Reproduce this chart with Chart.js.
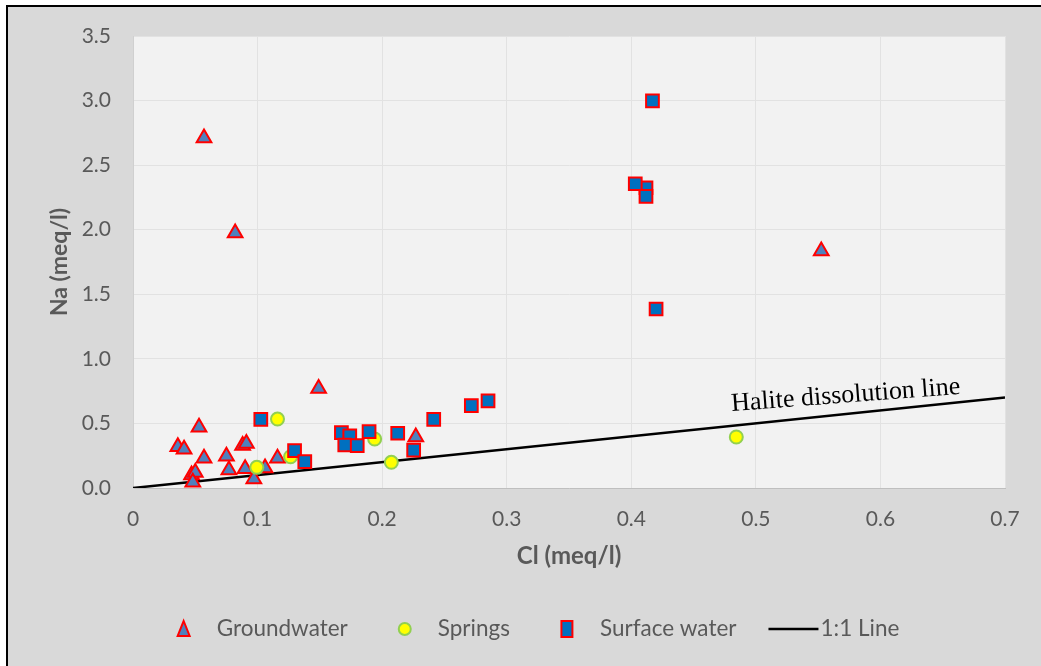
<!DOCTYPE html>
<html lang="en">

<head>
    <meta charset="UTF-8">
    <title>Na vs Cl</title>
    <script src="https://cdn.jsdelivr.net/npm/chart.js"></script>
    <style>
        html, body { margin: 0; padding: 0; background: #ffffff; }
        canvas { display: block; }
    </style>
</head>

<body>
    <canvas id="graficoNaCl" width="1041" height="666"></canvas>

<script>
    // Cl and Na in meq/l for each sample group
    const groundwaterCl = [0.149, 0.053, 0.036, 0.041, 0.057, 0.075, 0.088, 0.091, 0.077, 0.090, 0.106, 0.116, 0.047, 0.050, 0.048, 0.097, 0.057, 0.082, 0.5525, 0.227];
    const groundwaterNa = [0.77, 0.47, 0.32, 0.30, 0.23, 0.245, 0.33, 0.345, 0.14, 0.15, 0.155, 0.23, 0.10, 0.12, 0.045, 0.07, 2.71, 1.975, 1.835, 0.395];

    const springsCl = [0.116, 0.0994, 0.1265, 0.194, 0.2074, 0.4843];
    const springsNa = [0.534, 0.160, 0.242, 0.379, 0.199, 0.395];

    const surfaceCl = [0.1026, 0.1297, 0.1379, 0.1673, 0.174, 0.170, 0.180, 0.1895, 0.2125, 0.2253, 0.2414, 0.2716, 0.285, 0.4118, 0.4032, 0.4118, 0.4199, 0.417];
    const surfaceNa = [0.532, 0.289, 0.204, 0.428, 0.403, 0.333, 0.328, 0.436, 0.424, 0.294, 0.532, 0.637, 0.674, 2.325, 2.356, 2.259, 1.386, 2.997];

    // 1:1 reference line
    const lineCl = [0, 0.7];
    const lineNa = [0, 0.7];

    const xTickValues = [0, 0.1, 0.2, 0.3, 0.4, 0.5, 0.6, 0.7];
    const xTickLabels = ['0', '0.1', '0.2', '0.3', '0.4', '0.5', '0.6', '0.7'];
    const yTickValues = [0, 0.5, 1, 1.5, 2, 2.5, 3, 3.5];
    const yTickLabels = ['0.0', '0.5', '1.0', '1.5', '2.0', '2.5', '3.0', '3.5'];

    const seriesNames = ['Groundwater', 'Springs', 'Surface water', '1:1 Line'];
    const lineLabel = { text: 'Halite dissolution line', x: 0.5725, y: 0.662 };

    function pontos(xs, ys) {
        return xs.map(function (x, i) { return { x: x, y: ys[i] } });
    }

    const cinza = '#595959';
    Chart.defaults.font.family = 'Lato, "Open Sans", sans-serif';

    // frame, grey background and plot area fill
    const fundo = {
        id: 'fundo',
        beforeDraw(chart) {
            const ctx = chart.ctx;
            const a = chart.chartArea;
            ctx.save();
            ctx.fillStyle = '#ffffff';
            ctx.fillRect(0, 0, chart.width, chart.height);
            ctx.fillStyle = '#d9d9d9';
            ctx.fillRect(7, 7, chart.width, chart.height);
            ctx.fillStyle = '#000000';
            ctx.fillRect(6, 5, chart.width, 2);
            ctx.fillRect(6, 5, 2, chart.height);
            ctx.fillStyle = '#f2f2f2';
            ctx.fillRect(a.left, a.top, a.right - a.left, a.bottom - a.top);
            ctx.restore();
        }
    };

    // rotated label sitting on the 1:1 line
    const rotulo = {
        id: 'rotulo',
        afterDatasetsDraw(chart) {
            const ctx = chart.ctx;
            const px = chart.scales.x.getPixelForValue(lineLabel.x);
            const py = chart.scales.y.getPixelForValue(lineLabel.y);
            ctx.save();
            ctx.translate(px, py);
            ctx.rotate(-4.3 * Math.PI / 180);
            ctx.font = '26px "Liberation Serif", "Times New Roman", serif';
            ctx.fillStyle = '#000000';
            ctx.textAlign = 'center';
            ctx.textBaseline = 'alphabetic';
            ctx.fillText(lineLabel.text, 0, 0);
            ctx.restore();
        }
    };

    // legend symbols are a little taller than the plotted markers
    function desenhaSimbolo(ctx, estilo, x, y) {
        if (estilo === 'triangle') {
            ctx.moveTo(x, y - 8);
            ctx.lineTo(x + 6, y + 7);
            ctx.lineTo(x - 6, y + 7);
            ctx.closePath();
        } else if (estilo === 'circle') {
            ctx.arc(x, y, 6, 0, Math.PI * 2);
        } else {
            ctx.rect(x - 5.5, y - 8, 11, 16);
        }
    }

    // legend row at the bottom, Excel style
    const legenda = {
        id: 'legenda',
        afterDraw(chart) {
            const ctx = chart.ctx;
            const y = 629;
            const simbolo = 50, folga = 8, espaco = 32;
            ctx.save();
            ctx.font = '22.5px Lato, "Open Sans", sans-serif';
            const larguras = seriesNames.map(function (n) { return ctx.measureText(n).width });
            let total = 0;
            larguras.forEach(function (w, i) { total += simbolo + folga + w + (i > 0 ? espaco : 0) });
            let x = 532 - total / 2;
            chart.data.datasets.forEach(function (ds, i) {
                const c = x + simbolo / 2;
                if (ds.type === 'line') {
                    ctx.strokeStyle = ds.borderColor;
                    ctx.lineWidth = ds.borderWidth;
                    ctx.beginPath();
                    ctx.moveTo(x, y);
                    ctx.lineTo(x + simbolo, y);
                    ctx.stroke();
                } else {
                    ctx.fillStyle = ds.pointBackgroundColor;
                    ctx.strokeStyle = ds.pointBorderColor;
                    ctx.lineWidth = ds.pointBorderWidth;
                    ctx.beginPath();
                    desenhaSimbolo(ctx, ds.pointStyle, c, y);
                    ctx.fill();
                    ctx.stroke();
                }
                ctx.fillStyle = cinza;
                ctx.textAlign = 'left';
                ctx.textBaseline = 'middle';
                ctx.fillText(seriesNames[i], x + simbolo + (ds.type === 'line' ? 2 : folga), y);
                x += simbolo + folga + larguras[i] + espaco;
            });
            ctx.restore();
        }
    };

    const grafico = document.getElementById('graficoNaCl');

    new Chart(grafico, {
        type: 'scatter',
        data: {
            datasets: [
                {
                    label: seriesNames[0],
                    data: pontos(groundwaterCl, groundwaterNa),
                    pointStyle: 'triangle',
                    pointRadius: 8.5,
                    pointHoverRadius: 8.5,
                    pointBackgroundColor: '#4f81bd',
                    pointBorderColor: '#ff0000',
                    pointBorderWidth: 2,
                    order: 3
                },
                {
                    label: seriesNames[1],
                    data: pontos(springsCl, springsNa),
                    pointStyle: 'circle',
                    pointRadius: 6.5,
                    pointHoverRadius: 6.5,
                    pointBackgroundColor: '#ffff00',
                    pointBorderColor: '#92d050',
                    pointBorderWidth: 2,
                    order: 2
                },
                {
                    label: seriesNames[2],
                    data: pontos(surfaceCl, surfaceNa),
                    pointStyle: 'rect',
                    pointRadius: 9,
                    pointHoverRadius: 9,
                    pointBackgroundColor: '#0070c0',
                    pointBorderColor: '#ff0000',
                    pointBorderWidth: 2,
                    order: 1
                },
                {
                    type: 'line',
                    label: seriesNames[3],
                    data: pontos(lineCl, lineNa),
                    borderColor: '#000000',
                    borderWidth: 2.5,
                    pointRadius: 0,
                    fill: false,
                    order: 4
                }
            ]
        },
        options: {
            responsive: false,
            animation: false,
            devicePixelRatio: 1,
            layout: { padding: { top: 36, right: 36, left: 0, bottom: 0 } },
            plugins: {
                legend: { display: false },
                tooltip: { enabled: false }
            },
            scales: {
                x: {
                    type: 'linear',
                    min: 0,
                    max: 0.7,
                    afterFit: function (s) { s.height = 178 },
                    afterBuildTicks: function (s) { s.ticks = xTickValues.map(function (v) { return { value: v } }) },
                    ticks: {
                        color: cinza,
                        font: { size: 21 },
                        padding: 19,
                        maxRotation: 0,
                        callback: function (v, i) { return xTickLabels[i] }
                    },
                    grid: { color: '#e2e2e2', lineWidth: 1, drawTicks: false },
                    border: { color: '#bfbfbf', width: 1 },
                    title: {
                        display: true,
                        text: 'Cl (meq/l)',
                        color: cinza,
                        font: { size: 24, weight: 'bold' },
                        padding: { top: 0, bottom: 95 }
                    }
                },
                y: {
                    type: 'linear',
                    min: 0,
                    max: 3.5,
                    afterFit: function (s) { s.width = 133 },
                    afterBuildTicks: function (s) { s.ticks = yTickValues.map(function (v) { return { value: v } }) },
                    ticks: {
                        color: cinza,
                        font: { size: 21 },
                        padding: 22,
                        callback: function (v, i) { return yTickLabels[i] }
                    },
                    grid: { color: '#e2e2e2', lineWidth: 1, drawTicks: false },
                    border: { color: '#d0d0d0', width: 1 },
                    title: {
                        display: true,
                        text: 'Na (meq/l)',
                        color: cinza,
                        font: { size: 23, weight: 'bold' },
                        padding: { top: 46, bottom: 0 }
                    }
                }
            }
        },
        plugins: [fundo, rotulo, legenda]
    });
</script>
</body>

</html>
